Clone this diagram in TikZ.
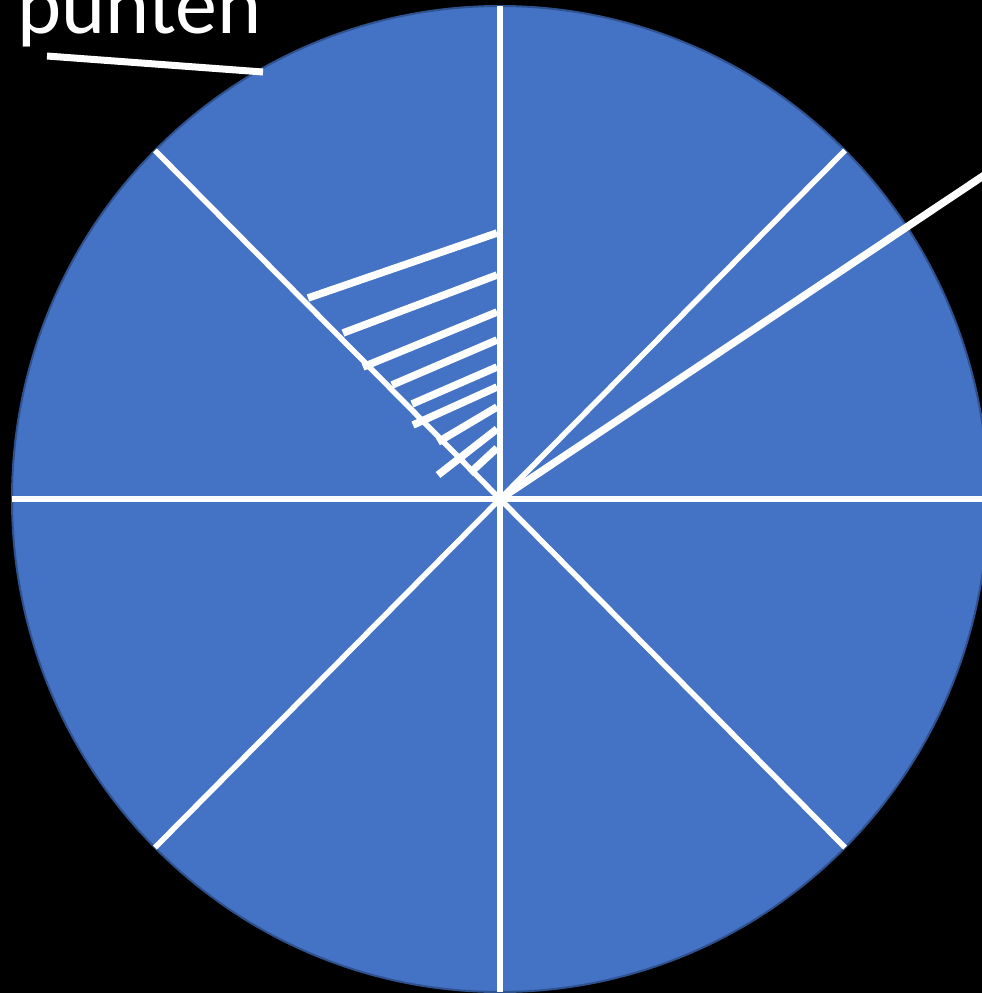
\documentclass[tikz,border=0pt]{standalone}
\usepackage{fontspec}
\setmainfont{Carlito}
\usetikzlibrary{calc}
\definecolor{piefill}{HTML}{4472C4}
\definecolor{pieedge}{HTML}{2F528F}
\tikzset{
  spoke/.style={white, line width=5.5pt},
  hatch/.style={white, line width=7.5pt},
  pointer/.style={white, line width=7pt},
}
\begin{document}
\begin{tikzpicture}[x=1pt,y=-1pt]
\fill[black] (0,0) rectangle (982,993);
\useasboundingbox (0,0) rectangle (982,993);
\clip (0,0) rectangle (982,993);
\coordinate (c) at (500,499);
\filldraw[fill=piefill, draw=pieedge, line width=2pt] (c) ellipse [x radius=488, y radius=493];
% spokes
\foreach \a in {0,45,...,315}{
  \draw[spoke] (c) -- ($(c)+({488*cos(\a)},{493*sin(\a)})$);
}
% long line to upper right
\coordinate (far) at (1010,158);
\draw[hatch] (c) -- (far);
% hatch lines
\foreach \x/\y/\yy in {308/298/233, 343/333/275, 363/367/312, 392/385/340, 412/404/367, 413/425/387, 438/442/407, 438/475/429, 470/473/448}{
  \draw[hatch] (\x,\y) -- (497,\yy);
}
% label
\node[anchor=base west, inner sep=0, text=white, font=\fontsize{84}{84}\selectfont] (lab) at (17,33) {punten};
\coordinate (p1) at (47,56);
\coordinate (p2) at (263,72);
\draw[pointer] (p1) -- (p2);
\end{tikzpicture}
\end{document}
